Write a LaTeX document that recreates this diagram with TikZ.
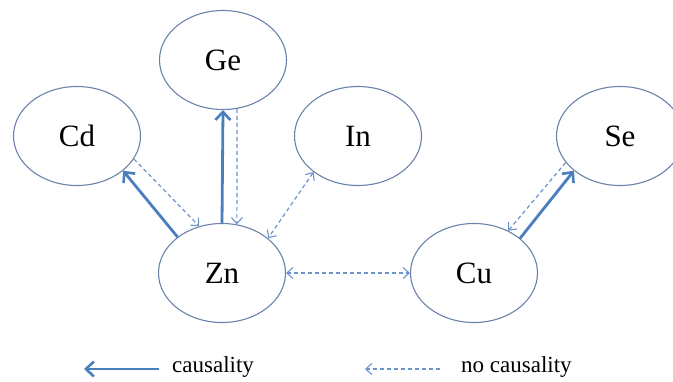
\documentclass[tikz,border=0pt]{standalone}
\usepackage{fontspec}
\setmainfont{Liberation Serif}
\usetikzlibrary{shapes.geometric,arrows.meta}
\definecolor{ringc}{HTML}{6A83AA}
\definecolor{arrc}{HTML}{4A7EBF}
\definecolor{dashc}{HTML}{6B93CC}
\tikzset{
  elem/.style={ellipse,draw=ringc,line width=1.1pt,minimum width=127pt,minimum height=99pt,inner sep=0pt,font=\fontsize{31}{33}\selectfont},
  cause/.style={draw=arrc,line width=2.8pt,-{Straight Barb[length=8pt,width=15pt,line width=2.6pt]}},
  nocause/.style={draw=dashc,line width=1.2pt,dash pattern=on 4pt off 3pt,{-{Straight Barb[length=6pt,width=11pt,line width=1.1pt]}}},
  nocauseb/.style={draw=dashc,line width=1.2pt,dash pattern=on 4pt off 3pt,{Straight Barb[length=6pt,width=11pt,line width=1.1pt]}-{Straight Barb[length=6pt,width=11pt,line width=1.1pt]}},
  legtext/.style={anchor=west,font=\fontsize{23}{25}\selectfont,inner sep=0pt}
}
\begin{document}
\begin{tikzpicture}[x=1pt,y=-1pt]
\useasboundingbox (0,0) rectangle (673,381);
\node[elem] (Ge) at (223,60) {Ge};
\node[elem] (Cd) at (77,136) {Cd};
\node[elem] (In) at (358,136) {In};
\node[elem] (Se) at (620,136) {Se};
\node[elem] (Zn) at (222,273) {Zn};
\node[elem] (Cu) at (474,273) {Cu};
% causality
\draw[cause] (Zn.141) -- (Cd.-37);
\draw[cause] (Zn.90) -- (Ge.-90);
\draw[cause] (Cu.37) -- (Se.217);
% no causality
\draw[nocause] (Cd.-22) -- (Zn.116);
\draw[nocause] (Ge.-74) -- (Zn.73);
\draw[nocauseb] (In.219) -- (Zn.37);
\draw[nocauseb] (Zn.east) -- (Cu.west);
\draw[nocause] (Se.206) -- (Cu.51);
% legend
\coordinate (l1a) at (159,369);
\coordinate (l1b) at (84,369);
\coordinate (l2a) at (440,369);
\coordinate (l2b) at (365,369);
\draw[cause] (l1a) -- (l1b);
\draw[nocause] (l2a) -- (l2b);
\node[legtext] (t1) at (172,367) {causality};
\node[legtext] (t2) at (461,367) {no causality};
\end{tikzpicture}
\end{document}
